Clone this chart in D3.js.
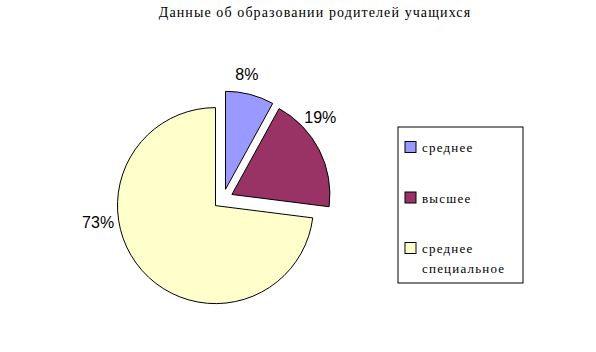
<!DOCTYPE html>
<html>
<head>
<meta charset="utf-8">
<script src="https://cdn.jsdelivr.net/npm/d3@7"></script>
<style>
  body { margin: 0; background: #fff; }
</style>
</head>
<body>
<script>
// chart data
var categories = ["среднее", "высшее", "среднее специальное"];
var shares = [8, 19, 73];
var colors = ["#9999ff", "#993366", "#ffffcc"];
var title = "Данные об образовании родителей учащихся";

var width = 596, height = 352;

var svg = d3.select("body").append("svg")
    .attr("width", width)
    .attr("height", height);

// title
svg.append("text")
    .attr("x", 315)
    .attr("y", 17)
    .attr("text-anchor", "middle")
    .attr("font-family", "'Liberation Serif', 'Times New Roman', serif")
    .attr("font-size", "14px")
    .attr("letter-spacing", "1.1px")
    .text(title);

// pie geometry
var cx = 223, cy = 199, radius = 98, explode = 10;

var pie = d3.pie().sort(null).value(d => d);
var arc = d3.arc().innerRadius(0).outerRadius(radius);
var arcs = pie(shares);

var g = svg.append("g")
    .attr("transform", "translate(" + cx + "," + cy + ")");

g.selectAll("path")
    .data(arcs)
    .enter()
    .append("path")
    .attr("transform", function (d) {
        var mid = (d.startAngle + d.endAngle) / 2;
        return "translate(" + (explode * Math.sin(mid)) + "," + (-explode * Math.cos(mid)) + ")";
    })
    .attr("d", arc)
    .attr("fill", (d, i) => colors[i])
    .attr("stroke", "#000")
    .attr("stroke-width", 1);

// percent labels, placed outside the pie (fraction along each slice where Excel put them)
var labelAt = [0.375, 0.31, 0.618], labelRadius = 127;
g.selectAll("text.pct")
    .data(arcs)
    .enter()
    .append("text")
    .attr("class", "pct")
    .attr("x", function (d, i) {
        var a = d.startAngle + (d.endAngle - d.startAngle) * labelAt[i];
        return labelRadius * Math.sin(a);
    })
    .attr("y", function (d, i) {
        var a = d.startAngle + (d.endAngle - d.startAngle) * labelAt[i];
        return -labelRadius * Math.cos(a) + 6;
    })
    .attr("text-anchor", "middle")
    .attr("font-family", "'Liberation Sans', Arial, sans-serif")
    .attr("font-size", "16px")
    .text(d => d.data + "%");

// legend
var legend = svg.append("g").attr("transform", "translate(398,127)");
legend.append("rect")
    .attr("width", 125)
    .attr("height", 156)
    .attr("fill", "#fff")
    .attr("stroke", "#000");

var rowY = d3.scalePoint().domain(categories).range([20, 121]);

var items = legend.selectAll("g.item")
    .data(categories)
    .enter()
    .append("g")
    .attr("class", "item")
    .attr("transform", d => "translate(0," + rowY(d) + ")");

items.append("rect")
    .attr("x", 7)
    .attr("y", -5.5)
    .attr("width", 11)
    .attr("height", 11)
    .attr("fill", (d, i) => colors[i])
    .attr("stroke", "#000");

items.append("text")
    .attr("font-family", "'Liberation Serif', 'Times New Roman', serif")
    .attr("font-size", "13px")
    .attr("letter-spacing", "1.2px")
    .selectAll("tspan")
    .data(d => d.split(" "))
    .enter()
    .append("tspan")
    .attr("x", 24)
    .attr("y", (d, i) => 5 + i * 20)
    .text(d => d);
</script>
</body>
</html>
